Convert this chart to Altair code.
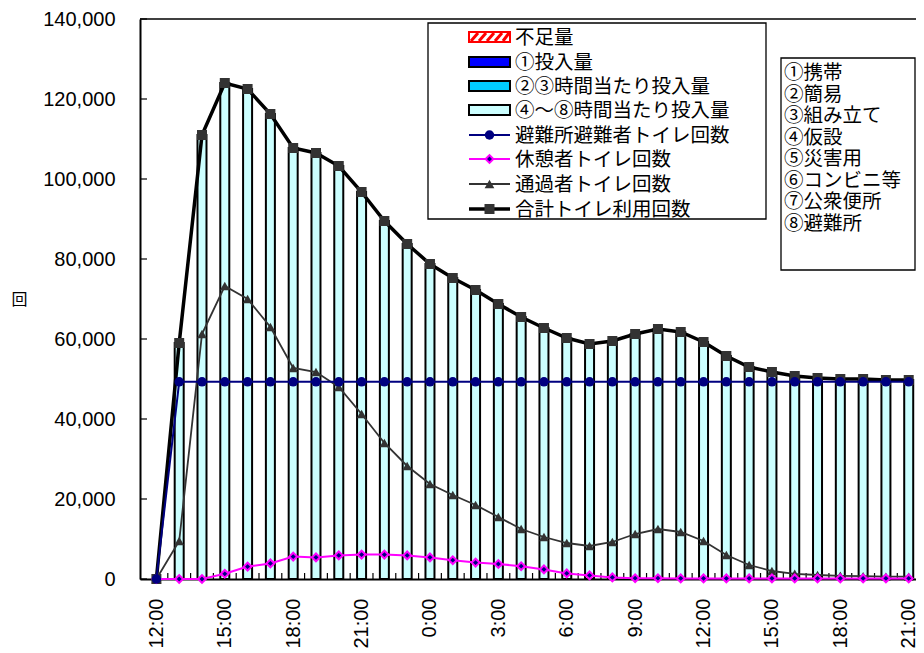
import altair as alt
import pandas as pd

# ---- data ----
times = ["12:00", "13:00", "14:00", "15:00", "16:00", "17:00", "18:00", "19:00",
         "20:00", "21:00", "22:00", "23:00", "0:00", "1:00", "2:00", "3:00",
         "4:00", "5:00", "6:00", "7:00", "8:00", "9:00", "10:00", "11:00",
         "12:00", "13:00", "14:00", "15:00", "16:00", "17:00", "18:00", "19:00",
         "20:00", "21:00"]

total = [0, 59000, 111000, 124000, 122500, 116250, 107750, 106500, 103250, 96750,
         89500, 83750, 78750, 75250, 72250, 68750, 65500, 62750, 60250, 58750,
         59500, 61250, 62500, 61750, 59250, 55750, 53000, 51750, 50750, 50250,
         50000, 50000, 49750, 49750]

supply_4_8 = [0, 59000, 111000, 124000, 122500, 116250, 107750, 106500, 103250, 96750,
              89500, 83750, 78750, 75250, 72250, 68750, 65500, 62750, 60250, 58750,
              59500, 61250, 62500, 61750, 59250, 55750, 53000, 51750, 50750, 50250,
              50000, 50000, 49750, 49750]

shelter = [0, 49300, 49300, 49300, 49300, 49300, 49300, 49300, 49300, 49300,
           49300, 49300, 49300, 49300, 49300, 49300, 49300, 49300, 49300, 49300,
           49300, 49300, 49300, 49300, 49300, 49300, 49300, 49300, 49300, 49300,
           49300, 49300, 49300, 49300]

rest = [0, 0, 0, 1300, 3100, 3900, 5600, 5400, 5900, 6100,
        6100, 5900, 5400, 4700, 4100, 3750, 3200, 2400, 1400, 900,
        400, 200, 200, 150, 150, 150, 150, 150, 150, 150,
        150, 150, 150, 150]

transit = [0, 9500, 61250, 73250, 70000, 63000, 52750, 51750, 48000, 41250,
           34000, 28250, 23750, 21000, 18500, 15500, 12500, 10500, 9000, 8250,
           9250, 11250, 12500, 11750, 9500, 6000, 3500, 2000, 1300, 1000,
           800, 700, 600, 600]

y_ticks = [0, 20000, 40000, 60000, 80000, 100000, 120000, 140000]
x_label_idx = [0, 3, 6, 9, 12, 15, 18, 21, 24, 27, 30, 33]

legend1 = ["不足量", "①投入量", "②③時間当たり投入量", "④～⑧時間当たり投入量",
           "避難所避難者トイレ回数", "休憩者トイレ回数", "通過者トイレ回数", "合計トイレ利用回数"]
legend2 = ["①携帯", "②簡易", "③組み立て", "④仮設", "⑤災害用", "⑥コンビニ等", "⑦公衆便所", "⑧避難所"]

df = pd.DataFrame({"idx": list(range(len(times))), "time": times, "total": total,
                   "supply": supply_4_8, "shelter": shelter, "rest": rest, "transit": transit})
ytick_df = pd.DataFrame({"v": y_ticks})

W, H = 776, 560
NAVY = "#000080"
MAG = "#FF00FF"
DGRAY = "#333333"
JP = "Noto Sans CJK JP"
NUM = "Liberation Sans"

xscale = alt.Scale(domain=[-0.5, 33.1], nice=False, zero=False)
yscale = alt.Scale(domain=[0, 140000], nice=False, zero=True)

label_arr = "[" + ",".join("'%s'" % t for t in times) + "]"

x_axis = alt.Axis(values=x_label_idx, labelExpr=label_arr + "[datum.value]",
                  labelAngle=270, labelAlign="right", labelBaseline="middle",
                  labelFontSize=20, labelFont=NUM, labelColor="black", labelPadding=19,
                  ticks=False, grid=False, domainColor="black", domainWidth=2, title=None,
                  labelOverlap=False, labelFlush=False)
y_axis = alt.Axis(values=y_ticks, format=",d", labelFontSize=20, labelFont=NUM,
                  labelColor="black", labelPadding=25, ticks=False, grid=False,
                  domainColor="black", domainWidth=2, title="回", titleAngle=0,
                  titleX=-121, titleY=280, titleFontSize=16, titleFont=JP,
                  titleFontWeight="normal", titleColor="black",
                  titleAlign="center", titleBaseline="middle",
                  labelOverlap=False, labelFlush=False)


def X(field):
    return alt.X(field + ":Q", scale=xscale, axis=x_axis)


def Y(field):
    return alt.Y(field + ":Q", scale=yscale, axis=y_axis)


base = alt.Chart(df)

bars = base.mark_bar(fill="#CCFFFF", stroke="black", strokeWidth=2, size=9).encode(
    x=X("idx"), y=Y("supply"))

xticks = base.transform_calculate(tx="datum.idx + 0.5").transform_filter(
    "datum.idx < 33").mark_rule(color="black", strokeWidth=1.2).encode(
    x=X("tx"), y=alt.value(H), y2=alt.value(H - 6))

yticks = alt.Chart(ytick_df).mark_rule(color="black", strokeWidth=1.2).encode(
    y=Y("v"), x=alt.value(0), x2=alt.value(7))

top_border = alt.Chart(alt.Data(values=[{}])).mark_rule(color="black", strokeWidth=1.5).encode(
    x=alt.value(0), x2=alt.value(W), y=alt.value(0))


def series(field, color, width, shape, size, fill, stroke=None, sw=0):
    line = base.mark_line(color=color, strokeWidth=width).encode(x=X("idx"), y=Y(field))
    kw = dict(shape=shape, size=size, filled=True, fill=fill, opacity=1)
    if stroke:
        kw.update(stroke=stroke, strokeWidth=sw)
    pts = base.mark_point(**kw).encode(x=X("idx"), y=Y(field))
    return [line, pts]


layers = [bars, xticks, yticks, top_border]
layers += series("total", "black", 3.5, "square", 100, DGRAY)
layers += series("transit", DGRAY, 1.8, "triangle-up", 95, DGRAY)
layers += series("rest", MAG, 2, "diamond", 60, NAVY, MAG, 2)
layers += series("shelter", NAVY, 2, "circle", 90, NAVY)

one = alt.Data(values=[{}])

# ---- legend 1 ----
L1x0, L1x1, L1y0, L1y1 = 288, 626, 4, 200
layers.append(alt.Chart(one).mark_rect(fill="white", stroke="black", strokeWidth=1.3).encode(
    x=alt.value(L1x0), x2=alt.value(L1x1), y=alt.value(L1y0), y2=alt.value(L1y1)))
rows1 = [18, 43, 67, 91, 116, 140, 165, 190]
sx0, sx1, sxc, tx = 329, 370, 349.5, 375
for lab, ry in zip(legend1, rows1):
    layers.append(alt.Chart(one).mark_text(align="left", baseline="middle", font=JP,
                                           fontSize=19.5, color="black").encode(
        x=alt.value(tx), y=alt.value(ry + 1), text=alt.value(lab)))
# hatched box
ry = rows1[0]
layers.append(alt.Chart(one).mark_rect(fill="white", stroke="red", strokeWidth=2).encode(
    x=alt.value(sx0), x2=alt.value(sx1), y=alt.value(ry - 5), y2=alt.value(ry + 5)))
for k in range(5):
    a = sx0 + 2 + k * 8
    layers.append(alt.Chart(one).mark_rule(color="red", strokeWidth=3).encode(
        x=alt.value(a), y=alt.value(ry + 4), x2=alt.value(min(a + 7, sx1 - 1)),
        y2=alt.value(ry - 4)))
for ry, col in zip(rows1[1:4], ["#0000FF", "#00CCFF", "#CCFFFF"]):
    layers.append(alt.Chart(one).mark_rect(fill=col, stroke="black", strokeWidth=2).encode(
        x=alt.value(sx0), x2=alt.value(sx1), y=alt.value(ry - 5), y2=alt.value(ry + 5)))
sym = [
    (NAVY, 2, "circle", 90, NAVY, None, 0),
    (MAG, 2, "diamond", 60, NAVY, MAG, 2),
    (DGRAY, 1.8, "triangle-up", 95, DGRAY, None, 0),
    ("black", 3.5, "square", 100, DGRAY, None, 0),
]
for ry, (col, w, shp, sz, fil, stc, sw) in zip(rows1[4:], sym):
    layers.append(alt.Chart(one).mark_rule(color=col, strokeWidth=w).encode(
        x=alt.value(sx0), x2=alt.value(sx1), y=alt.value(ry)))
    kw = dict(shape=shp, size=sz, filled=True, fill=fil, opacity=1)
    if stc:
        kw.update(stroke=stc, strokeWidth=sw)
    layers.append(alt.Chart(one).mark_point(**kw).encode(x=alt.value(sxc), y=alt.value(ry)))

# ---- legend 2 ----
layers.append(alt.Chart(one).mark_rect(fill="white", stroke="black", strokeWidth=1.3).encode(
    x=alt.value(641), x2=alt.value(775), y=alt.value(39), y2=alt.value(251)))
rows2 = [53, 74.5, 96, 117.5, 139, 160.5, 182, 203.5]
for lab, ry in zip(legend2, rows2):
    layers.append(alt.Chart(one).mark_text(align="left", baseline="middle", font=JP,
                                           fontSize=19.5, color="black").encode(
        x=alt.value(644), y=alt.value(ry + 1), text=alt.value(lab)))

chart = alt.layer(*layers).properties(
    width=W, height=H,
    padding={"left": 132, "top": 11, "right": 0, "bottom": 74},
    autosize=alt.AutoSizeParams(type="none"),
    background="white",
).configure_view(stroke=None)

chart.save("out.html", embed_options={"renderer": "svg", "actions": False})
